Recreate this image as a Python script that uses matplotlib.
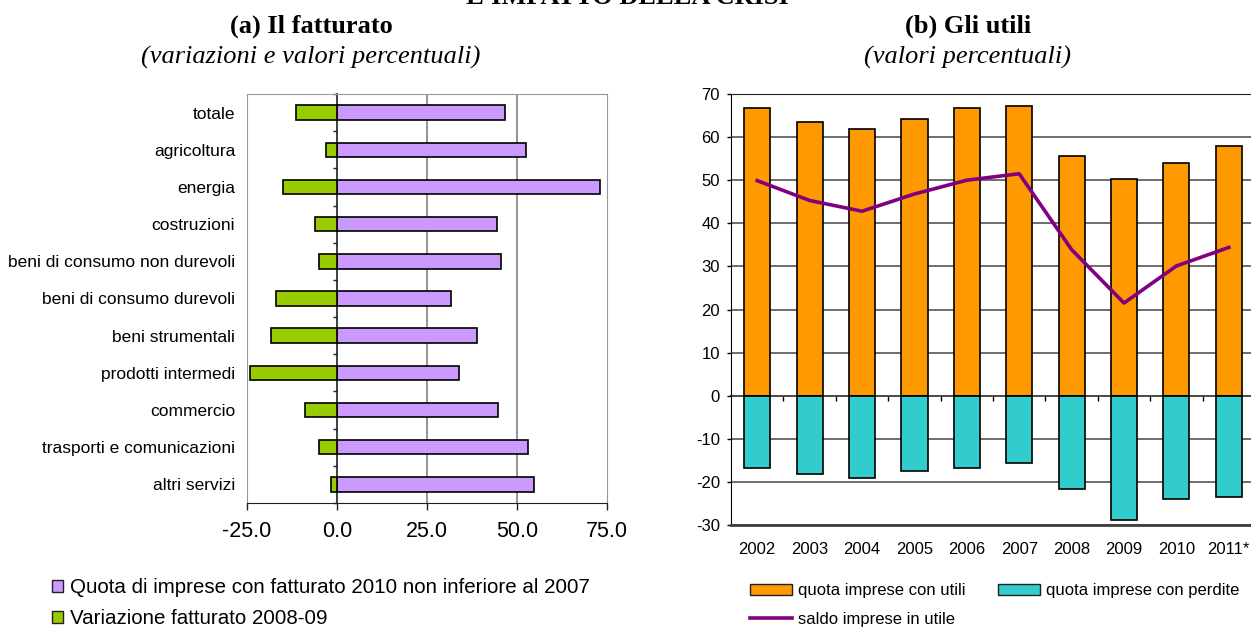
import numpy as np
import matplotlib
matplotlib.use('Agg')
import matplotlib.pyplot as plt
from matplotlib.patches import Patch
from matplotlib.lines import Line2D

plt.rcParams['font.family'] = ['Liberation Sans', 'DejaVu Sans']
plt.rcParams['axes.unicode_minus'] = False

# (a) Il fatturato
settori = ['totale', 'agricoltura', 'energia', 'costruzioni',
           'beni di consumo non durevoli', 'beni di consumo durevoli',
           'beni strumentali', 'prodotti intermedi', 'commercio',
           'trasporti e comunicazioni', 'altri servizi']
quota_fatturato = [46.8, 52.5, 73.0, 44.5, 45.6, 31.7, 38.9, 33.9, 44.7, 53.0, 54.7]
var_fatturato = [-11.5, -3.1, -15.1, -6.1, -4.9, -16.9, -18.3, -24.1, -9.0, -4.9, -1.7]
x_ticks_a = [-25, 0, 25, 50, 75]

# (b) Gli utili
anni = ['2002', '2003', '2004', '2005', '2006', '2007', '2008', '2009', '2010', '2011*']
quota_utili = [66.8, 63.6, 61.8, 64.3, 66.8, 67.3, 55.6, 50.3, 54.0, 57.9]
quota_perdite = [-16.8, -18.2, -19.0, -17.4, -16.8, -15.7, -21.7, -28.8, -23.9, -23.5]
saldo_utile = [49.9, 45.3, 42.8, 46.8, 50.0, 51.5, 33.9, 21.5, 30.1, 34.4]

VIOLA = '#CC99FF'
VERDE = '#99CC00'
ARANCIO = '#FF9900'
CIANO = '#33CCCC'
PORPORA = '#800080'

W, H = 1251, 628
fig = plt.figure(figsize=(W / 100, H / 100), dpi=100)


def fx(px):
    return px / W


def fy(px):
    return 1 - px / H


# --- titoli ---
serif = ['Liberation Serif', 'DejaVu Serif']
fig.text(fx(627), fy(4), "L'IMPATTO DELLA CRISI", family=serif, weight='bold',
         fontsize=19, ha='center', va='baseline')
fig.text(fx(311), fy(33), '(a) Il fatturato', family=serif, weight='bold',
         fontsize=19, ha='center', va='baseline')
fig.text(fx(311), fy(64), '(variazioni e valori percentuali)', family=serif,
         style='italic', fontsize=19, ha='center', va='baseline')
fig.text(fx(968), fy(33), '(b) Gli utili', family=serif, weight='bold',
         fontsize=19, ha='center', va='baseline')
fig.text(fx(968), fy(64), '(valori percentuali)', family=serif,
         style='italic', fontsize=19, ha='center', va='baseline')

# --- pannello (a) ---
ax = fig.add_axes([fx(247), fy(503), fx(360), 409 / H])
pos = np.arange(len(settori))
ax.barh(pos, quota_fatturato, height=0.39, color=VIOLA, edgecolor='black', lw=1.2, zorder=3)
ax.barh(pos, var_fatturato, height=0.39, color=VERDE, edgecolor='black', lw=1.2, zorder=3)
ax.set_xlim(-25, 75)
ax.set_ylim(len(settori) - 0.5, -0.5)
ax.set_yticks(pos)
ax.set_yticklabels(settori, fontsize=12.5)
ax.tick_params(axis='y', length=0, pad=8.5)
ax.set_xticks(x_ticks_a)
ax.set_xticklabels([f'{v:.1f}' for v in x_ticks_a], fontsize=15.5)
ax.tick_params(axis='x', length=5, width=1, pad=8, color='#202020')
for v in [25, 50]:
    ax.axvline(v, color='#808080', lw=1.2, zorder=1)
for s in ['top', 'right', 'left']:
    ax.spines[s].set_color('#999999')
ax.spines['bottom'].set_color('#202020')
sec = ax.secondary_yaxis(0.25, functions=(lambda v: v, lambda v: v))
sec.set_yticks(np.arange(-0.5, len(settori), 1.0))
sec.tick_params(length=3, width=1, labelleft=False, color='#202020')
sec.spines['left'].set_color('#202020')
sec.spines['left'].set_linewidth(1.2)

leg_a = [Patch(facecolor=VIOLA, edgecolor='#202020', lw=1.0,
               label='Quota di imprese con fatturato 2010 non inferiore al 2007'),
         Patch(facecolor=VERDE, edgecolor='#202020', lw=1.0,
               label='Variazione fatturato 2008-09')]
fig.legend(handles=leg_a, loc='upper left', bbox_to_anchor=(fx(52), fy(578)),
           frameon=False, fontsize=14.8, handlelength=0.55, handleheight=0.55,
           handletextpad=0.35, labelspacing=0.6, borderpad=0, borderaxespad=0)

# --- pannello (b) ---
bx = fig.add_axes([fx(731), fy(525), fx(524), 431 / H])
xb = np.arange(len(anni))
bx.bar(xb, quota_utili, width=0.5, color=ARANCIO, edgecolor='black', lw=1.2, zorder=3)
bx.bar(xb, quota_perdite, width=0.5, color=CIANO, edgecolor='black', lw=1.2, zorder=3)
bx.plot(xb, saldo_utile, color=PORPORA, lw=2.6, zorder=4)
bx.set_xlim(-0.5, len(anni) - 0.5)
bx.set_ylim(-30, 70)
bx.set_yticks(np.arange(-30, 71, 10))
bx.tick_params(axis='y', labelsize=12, length=3, width=1, pad=5)
bx.set_xticks(xb)
bx.set_xticklabels(anni, fontsize=12)
bx.tick_params(axis='x', length=0, pad=12)
bx.yaxis.grid(True, color='#555555', lw=1.2, zorder=1)
bx.set_axisbelow(True)
bx.spines['right'].set_visible(False)
bx.spines['top'].set_color('#202020')
bx.spines['left'].set_color('black')
bx.spines['bottom'].set_color('#404040')
bx.spines['bottom'].set_linewidth(2)
secx = bx.secondary_xaxis(0.3, functions=(lambda v: v, lambda v: v))
secx.set_xticks(np.arange(0.5, len(anni) - 1, 1.0))
secx.tick_params(length=3.4, width=1, labelbottom=False, color='black')
secx.spines['bottom'].set_color('black')
secx.spines['bottom'].set_linewidth(1.2)

leg_b = [Patch(facecolor=ARANCIO, edgecolor='#202020', lw=1.0, label='quota imprese con utili'),
         Line2D([], [], color=PORPORA, lw=2.6, label='saldo imprese in utile'),
         Patch(facecolor=CIANO, edgecolor='#202020', lw=1.0, label='quota imprese con perdite')]
fig.legend(handles=leg_b, loc='upper left', bbox_to_anchor=(fx(750), fy(583)), ncol=2,
           frameon=False, fontsize=12, handlelength=2.5, handleheight=0.66,
           handletextpad=0.35, columnspacing=2.0, labelspacing=0.85,
           borderpad=0, borderaxespad=0)

fig.savefig('out.png', dpi=100)
